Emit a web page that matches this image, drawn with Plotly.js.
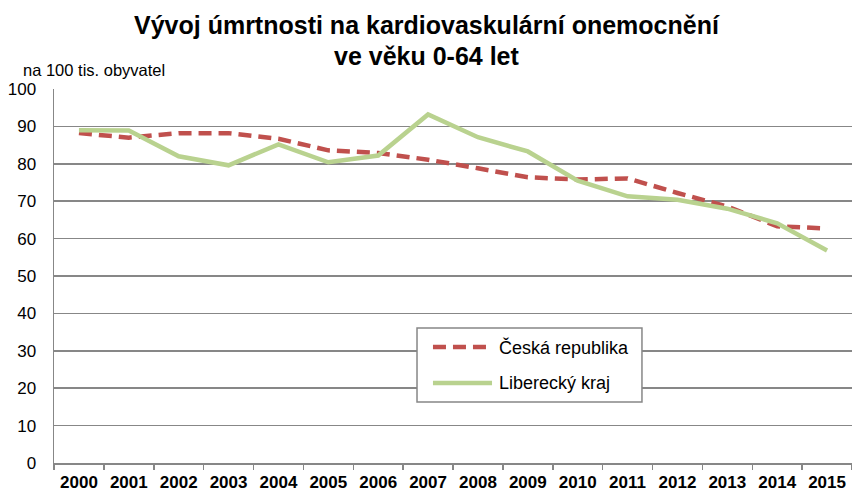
<!DOCTYPE html>
<html>
<head>
<meta charset="utf-8">
<script src="https://cdn.plot.ly/plotly-3.0.1.min.js"></script>
<style>html,body{margin:0;padding:0;background:#fff;}#chart{width:852px;height:493px;}</style>
</head>
<body>
<div id="chart"></div>
<script>
var years = ['2000','2001','2002','2003','2004','2005','2006','2007','2008','2009','2010','2011','2012','2013','2014','2015'];
var ceskaRepublika = [88.2, 87.0, 88.2, 88.2, 86.7, 83.6, 82.9, 81.1, 78.8, 76.4, 75.8, 76.1, 72.2, 68.6, 63.3, 62.7];
var libereckyKraj = [89.0, 88.9, 82.0, 79.6, 85.2, 80.4, 82.2, 93.2, 87.1, 83.3, 75.5, 71.3, 70.4, 68.0, 64.1, 56.8];
var seriesNames = ['Česká republika', 'Liberecký kraj'];
var yTicks = [0,10,20,30,40,50,60,70,80,90,100];
var titleLines = ['Vývoj úmrtnosti na kardiovaskulární onemocnění', 've věku 0-64 let'];
var unitLabel = 'na 100 tis. obyvatel';

var redColor = '#C0504D';
var greenColor = '#B9D28F';
var gridColor = '#878787';
var sans = 'Liberation Sans, Arial, sans-serif';

var traces = [
  {x: years, y: ceskaRepublika, name: seriesNames[0], type: 'scatter', mode: 'lines',
   line: {color: redColor, width: 4.5, dash: '13px,7px'}},
  {x: years, y: libereckyKraj, name: seriesNames[1], type: 'scatter', mode: 'lines',
   line: {color: greenColor, width: 4.5}}
];

var layout = {
  width: 852, height: 493,
  margin: {l: 54, r: 0, t: 89, b: 30},
  paper_bgcolor: '#fff', plot_bgcolor: '#fff',
  showlegend: false,
  xaxis: {type: 'category', range: [-0.5, 15.5], tickson: 'boundaries', ticks: 'outside', ticklen: 5,
          tickcolor: gridColor, tickwidth: 1.5, showline: true, linecolor: gridColor, linewidth: 1.5,
          showgrid: false, zeroline: false, ticklabelstandoff: 3,
          tickfont: {family: sans, size: 17, color: '#000', weight: 'bold'}},
  yaxis: {range: [0, 100], tickvals: yTicks, ticktext: yTicks.map(String), showgrid: true, gridcolor: gridColor, gridwidth: 1.5,
          showline: true, linecolor: gridColor, linewidth: 1.5, zeroline: false, ticks: '',
          ticklabelstandoff: 13,
          tickfont: {family: sans, size: 17, color: '#000'}},
  annotations: [
    {text: '<b>' + titleLines[0] + '</b>', xref: 'paper', yref: 'paper', x: 0.4675, y: 1.172, xanchor: 'center', yanchor: 'middle',
     showarrow: false, font: {family: sans, size: 25, color: '#000'}},
    {text: '<b>' + titleLines[1] + '</b>', xref: 'paper', yref: 'paper', x: 0.4675, y: 1.087, xanchor: 'center', yanchor: 'middle',
     showarrow: false, font: {family: sans, size: 25, color: '#000'}},
    {text: unitLabel, xref: 'paper', yref: 'paper', x: -0.0414, y: 1.052, xanchor: 'left', yanchor: 'middle',
     showarrow: false, font: {family: sans, size: 16.5, color: '#000'}},
    {text: seriesNames[0], xref: 'paper', yref: 'paper', x: 0.5555, y: 0.310, xanchor: 'left', yanchor: 'middle',
     showarrow: false, font: {family: sans, size: 18, color: '#000'}},
    {text: seriesNames[1], xref: 'paper', yref: 'paper', x: 0.5555, y: 0.214, xanchor: 'left', yanchor: 'middle',
     showarrow: false, font: {family: sans, size: 18, color: '#000'}}
  ],
  shapes: [
    {type: 'rect', xref: 'paper', yref: 'paper', x0: 0.4549, x1: 0.7368, y0: 0.1631, y1: 0.361,
     line: {color: gridColor, width: 1.5}, fillcolor: '#fff', layer: 'above'},
    {type: 'line', xref: 'paper', yref: 'paper', x0: 0.4749, x1: 0.5489, y0: 0.310, y1: 0.310,
     line: {color: redColor, width: 4.5, dash: '13px,7px'}, layer: 'above'},
    {type: 'line', xref: 'paper', yref: 'paper', x0: 0.4749, x1: 0.5489, y0: 0.214, y1: 0.214,
     line: {color: greenColor, width: 4.5}, layer: 'above'}
  ]
};

Plotly.newPlot('chart', traces, layout, {displayModeBar: false, staticPlot: true});
</script>
</body>
</html>
